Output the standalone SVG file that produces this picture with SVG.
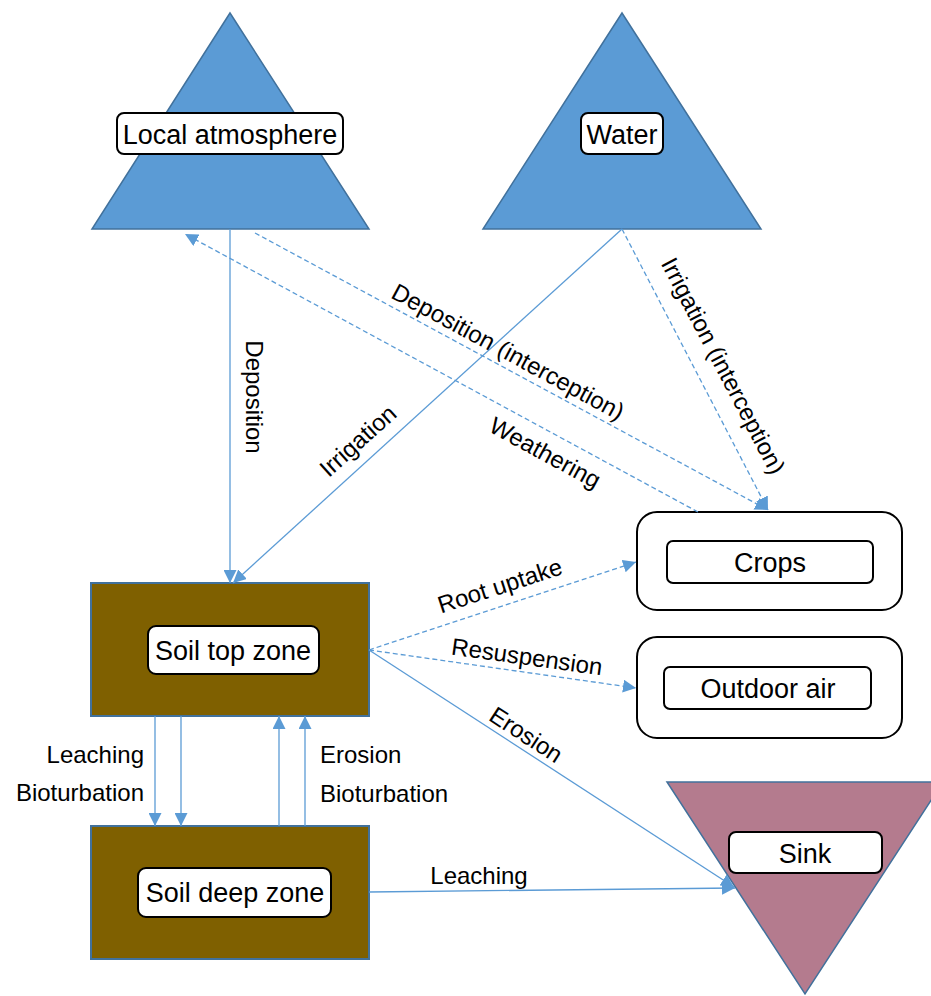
<svg xmlns="http://www.w3.org/2000/svg" width="931" height="996" viewBox="0 0 931 996">
<style>
.tri{fill:#5B9BD5;stroke:#41719C;stroke-width:1.5}
.soil{fill:#7F6000;stroke:#41719C;stroke-width:2}
.sink{fill:#B47B8E;stroke:#41719C;stroke-width:1.5}
.lbl{fill:#fff;stroke:#000;stroke-width:2}
.outer{fill:#fff;stroke:#000;stroke-width:2}
.nt{font-family:"Liberation Sans",Arial,sans-serif;font-size:27px;fill:#000;text-anchor:middle}
.ct{font-family:"Liberation Sans",Arial,sans-serif;font-size:24px;fill:#000}
.c{fill:none;stroke:#5B9BD5;stroke-width:1.3}
.d{stroke-dasharray:5 3}
</style>
<defs>
<marker id="ah" markerUnits="userSpaceOnUse" markerWidth="13" markerHeight="13" refX="13" refY="6.5" orient="auto" viewBox="0 0 13 13">
<path d="M0,0 L13,6.5 L0,13 z" fill="#5B9BD5"/>
</marker>
</defs>

<g id="local-atmosphere">
<polygon class="tri" points="230,13 369,229 92,229"/>
<rect class="lbl" x="117" y="113" width="226" height="41" rx="7"/>
<text class="nt" x="230" y="144">Local atmosphere</text>
</g>

<g id="water">
<polygon class="tri" points="622,13 761,229 483,229"/>
<rect class="lbl" x="581" y="113" width="82" height="41" rx="7"/>
<text class="nt" x="622" y="144">Water</text>
</g>

<g id="crops">
<rect class="outer" x="637" y="512" width="265" height="98" rx="20"/>
<rect class="lbl" x="667" y="541" width="206" height="42" rx="6"/>
<text class="nt" x="770" y="572">Crops</text>
</g>

<g id="outdoor-air">
<rect class="outer" x="637" y="637" width="265" height="101" rx="20"/>
<rect class="lbl" x="664" y="667" width="207" height="42" rx="6"/>
<text class="nt" x="768" y="698">Outdoor air</text>
</g>

<g id="soil-top-zone">
<rect class="soil" x="91" y="583" width="278" height="133"/>
<rect class="lbl" x="148" y="626" width="171" height="48" rx="8"/>
<text class="nt" x="233" y="660">Soil top zone</text>
</g>

<g id="soil-deep-zone">
<rect class="soil" x="91" y="826" width="278" height="133"/>
<rect class="lbl" x="138" y="868" width="193" height="49" rx="8"/>
<text class="nt" x="235" y="902">Soil deep zone</text>
</g>

<g id="sink">
<polygon class="sink" points="667,782 943,782 805,994"/>
<rect class="lbl" x="729" y="832" width="153" height="41" rx="7"/>
<text class="nt" x="805" y="863">Sink</text>
</g>

<g id="connectors">
<line class="c" x1="230" y1="229" x2="230" y2="583" marker-end="url(#ah)"/>
<line class="c" x1="622" y1="229" x2="233" y2="583" marker-end="url(#ah)"/>
<line class="c d" x1="255" y1="233" x2="768" y2="510" marker-end="url(#ah)"/>
<line class="c d" x1="698" y1="512" x2="185" y2="234" marker-end="url(#ah)"/>
<line class="c d" x1="622" y1="229" x2="768" y2="510" marker-end="url(#ah)"/>
<line class="c d" x1="369" y1="650" x2="636" y2="562" marker-end="url(#ah)"/>
<line class="c d" x1="369" y1="650" x2="636" y2="688" marker-end="url(#ah)"/>
<line class="c" x1="369" y1="650" x2="734" y2="887" marker-end="url(#ah)"/>
<line class="c" x1="369" y1="892" x2="735" y2="888" marker-end="url(#ah)"/>
<line class="c" x1="155" y1="716" x2="155" y2="826" marker-end="url(#ah)"/>
<line class="c" x1="181" y1="716" x2="181" y2="826" marker-end="url(#ah)"/>
<line class="c" x1="279" y1="826" x2="279" y2="716" marker-end="url(#ah)"/>
<line class="c" x1="305" y1="826" x2="305" y2="716" marker-end="url(#ah)"/>

<text class="ct" text-anchor="middle" transform="translate(254,397) rotate(90)" y="8">Deposition</text>
<text class="ct" text-anchor="middle" transform="translate(358,441) rotate(-42)" y="8">Irrigation</text>
<text class="ct" text-anchor="middle" transform="translate(508,352) rotate(28.4)" y="8">Deposition (interception)</text>
<text class="ct" text-anchor="middle" transform="translate(545,453) rotate(28.5)" y="8">Weathering</text>
<text class="ct" text-anchor="middle" transform="translate(723,366) rotate(62.5)" y="8">Irrigation (interception)</text>
<text class="ct" text-anchor="middle" transform="translate(500,586) rotate(-18)" y="8">Root uptake</text>
<text class="ct" text-anchor="middle" transform="translate(527,657) rotate(7.9)" y="8">Resuspension</text>
<text class="ct" text-anchor="middle" transform="translate(526,735) rotate(33)" y="8">Erosion</text>
<text class="ct" text-anchor="middle" x="479" y="884">Leaching</text>
<text class="ct" text-anchor="end" x="144" y="763">Leaching</text>
<text class="ct" text-anchor="end" x="144" y="801">Bioturbation</text>
<text class="ct" x="320" y="763">Erosion</text>
<text class="ct" x="320" y="802">Bioturbation</text>
</g>
</svg>
